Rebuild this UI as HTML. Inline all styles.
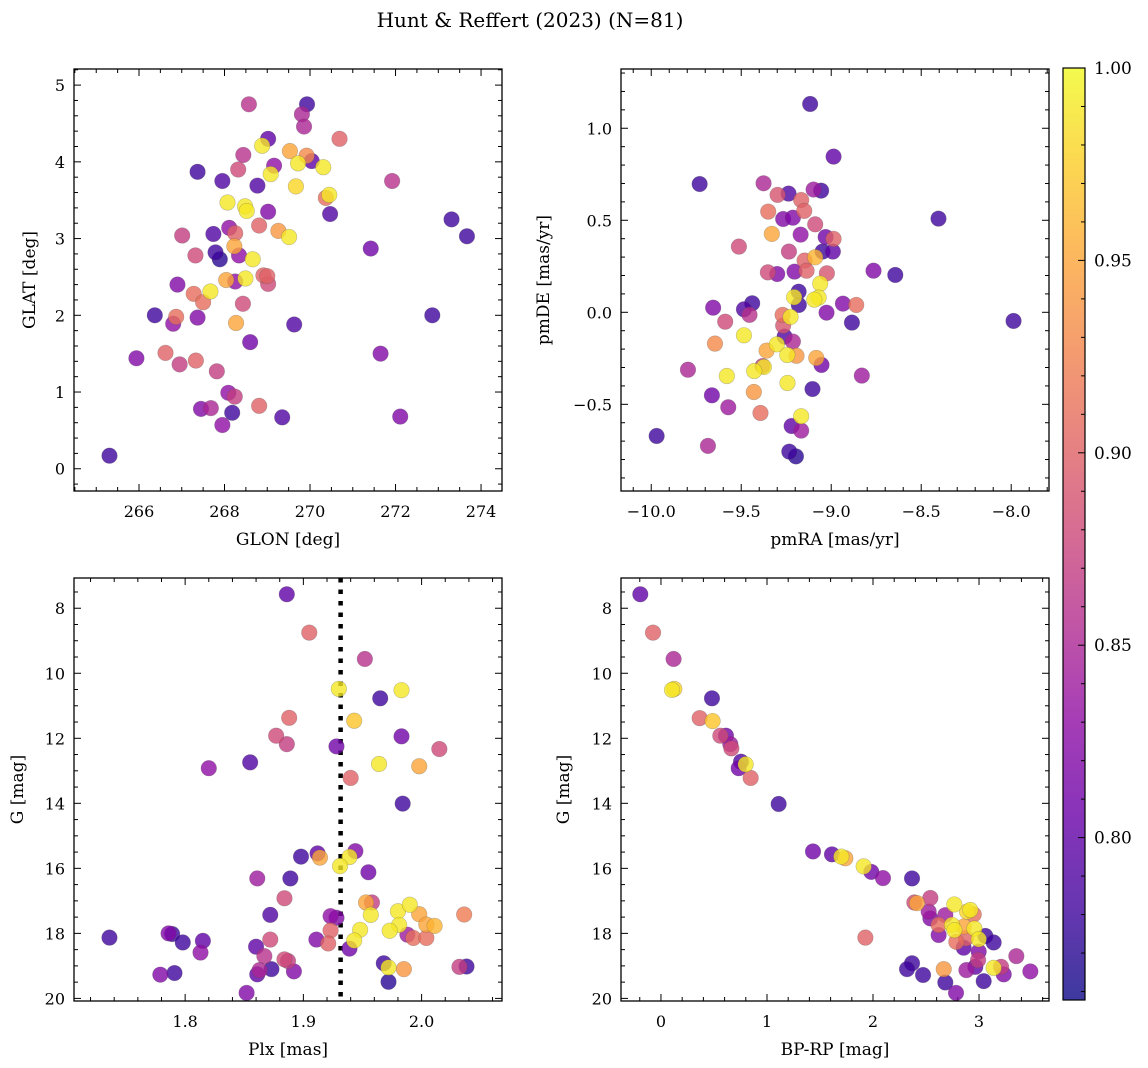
<!DOCTYPE html>
<html><head><meta charset="utf-8">
<style>
body{margin:0;background:#fff;}
svg{display:block;font-family:"DejaVu Serif","Liberation Serif",serif;}
</style></head>
<body>
<svg id="fig" width="1148" height="1068" viewBox="0 0 1148 1068" xmlns="http://www.w3.org/2000/svg">
<defs>
<linearGradient id="plasmaGrad" x1="0" y1="1" x2="0" y2="0"></linearGradient>
</defs>
<text x="530" y="27" font-size="20" text-anchor="middle">Hunt &amp; Reffert (2023) (N=81)</text>
</svg>
<script>
// ---------- Panel A: GLON vs GLAT ----------
const glonA=[268.57,269.93,269.81,269.86,270.69,269.02,268.88,269.53,268.44,269.92,270.04,269.72,270.31,269.16,268.32,267.37,269.08,267.95,268.77,269.67,271.92,270.37,270.45,268.07,268.48,268.52,270.47,269.02,273.31,273.67,268.11,268.81,268.25,269.26,269.51,267.01,267.74,271.42,268.23,267.79,267.89,268.34,268.66,267.32,268.91,269.00,269.02,268.49,268.04,268.25,266.90,267.67,267.28,267.50,268.43,266.37,266.87,266.80,267.37,268.27,269.63,272.86,268.60,265.94,266.62,271.65,266.95,267.33,267.82,268.09,268.24,268.81,267.45,267.68,268.18,269.35,272.11,267.95,265.31];
const glatA=[4.75,4.75,4.62,4.46,4.30,4.30,4.21,4.14,4.09,4.08,4.01,3.98,3.93,3.95,3.90,3.87,3.84,3.75,3.69,3.68,3.75,3.53,3.57,3.47,3.42,3.36,3.32,3.35,3.25,3.03,3.14,3.17,3.07,3.10,3.02,3.04,3.06,2.87,2.90,2.82,2.73,2.78,2.73,2.78,2.52,2.51,2.41,2.48,2.46,2.44,2.40,2.31,2.28,2.17,2.15,2.00,1.98,1.89,1.97,1.90,1.88,2.00,1.65,1.44,1.51,1.50,1.36,1.41,1.27,0.99,0.94,0.82,0.78,0.79,0.73,0.67,0.68,0.57,0.17];
const probA=[.86,.78,.85,.85,.90,.80,.99,.95,.86,.93,.80,.99,.99,.83,.88,.78,.99,.79,.79,.98,.86,.91,.99,.99,.99,.99,.79,.82,.78,.78,.83,.90,.90,.94,.99,.87,.79,.81,.95,.78,.77,.83,.99,.88,.90,.90,.88,.99,.95,.83,.82,.99,.91,.91,.88,.78,.91,.83,.82,.95,.79,.78,.81,.82,.90,.82,.87,.90,.87,.83,.87,.90,.82,.85,.78,.79,.82,.83,.78];
// ---------- Panel B: pmRA vs pmDE ----------
const pmraB=[-9.117,-8.987,-9.731,-9.376,-9.298,-9.237,-9.098,-9.056,-9.167,-9.150,-9.350,-9.267,-9.213,-9.089,-8.404,-9.330,-9.170,-9.031,-8.987,-9.513,-9.235,-9.048,-8.991,-9.089,-9.148,-9.137,-9.352,-9.300,-9.204,-9.024,-8.765,-8.644,-9.061,-9.181,-9.206,-9.070,-9.094,-9.180,-8.935,-8.861,-9.656,-9.485,-9.439,-9.454,-9.026,-7.987,-9.589,-9.270,-9.226,-8.885,-9.267,-9.485,-9.646,-9.259,-9.213,-9.302,-9.359,-9.244,-9.193,-9.083,-9.054,-9.796,-9.381,-9.374,-9.428,-9.580,-8.830,-9.243,-9.104,-9.430,-9.663,-9.572,-9.393,-9.167,-9.220,-9.167,-9.970,-9.685,-9.233,-9.196];
const pmdeB=[1.132,0.846,0.697,0.701,0.638,0.645,0.667,0.661,0.610,0.551,0.547,0.507,0.514,0.478,0.509,0.426,0.422,0.409,0.399,0.357,0.330,0.330,0.330,0.299,0.281,0.226,0.217,0.208,0.221,0.212,0.226,0.203,0.156,0.112,0.082,0.080,0.069,0.040,0.047,0.040,0.025,0.016,0.049,-0.014,-0.002,-0.047,-0.051,-0.014,-0.025,-0.056,-0.072,-0.125,-0.170,-0.132,-0.159,-0.174,-0.208,-0.232,-0.236,-0.248,-0.286,-0.312,-0.292,-0.297,-0.319,-0.346,-0.344,-0.384,-0.417,-0.433,-0.451,-0.516,-0.547,-0.565,-0.618,-0.643,-0.672,-0.726,-0.757,-0.783];
const probB=[.78,.80,.78,.85,.89,.79,.84,.78,.90,.90,.91,.82,.82,.88,.78,.95,.83,.81,.90,.88,.87,.78,.80,.96,.90,.90,.88,.82,.82,.89,.82,.78,.99,.78,.99,.99,.99,.78,.82,.91,.82,.79,.78,.86,.82,.78,.88,.91,.99,.78,.89,.99,.93,.79,.85,.99,.95,.99,.94,.95,.81,.85,.87,.99,.99,.99,.84,.99,.78,.94,.81,.84,.91,.99,.80,.84,.78,.85,.78,.77];
// ---------- Panel C: Plx vs G ----------
const plxC=[1.886,1.905,1.952,1.930,1.983,1.965,1.943,1.888,1.877,1.886,1.983,1.928,2.015,1.855,1.964,1.998,1.820,1.940,1.984,1.898,1.912,1.914,1.944,1.939,1.931,1.955,1.861,1.889,1.884,1.953,1.958,1.957,1.980,1.990,1.998,2.036,1.872,1.923,1.928,1.948,1.981,1.973,2.004,2.011,1.923,1.988,1.993,2.004,1.943,1.911,1.921,1.939,1.736,1.786,1.789,1.798,1.815,1.813,1.860,1.872,1.867,1.884,1.887,1.892,1.873,1.863,1.861,1.779,1.791,1.852,1.968,1.972,1.985,1.972,2.032,2.038];
const gC=[7.57,8.75,9.56,10.48,10.52,10.77,11.46,11.37,11.92,12.18,11.94,12.25,12.33,12.74,12.79,12.86,12.92,13.22,14.01,15.64,15.54,15.67,15.47,15.65,15.93,16.12,16.31,16.31,16.92,17.05,17.05,17.43,17.32,17.12,17.41,17.42,17.43,17.47,17.52,17.89,17.74,17.92,17.73,17.77,17.91,18.04,18.14,18.14,18.22,18.19,18.31,18.47,18.13,18.00,18.02,18.28,18.23,18.59,18.41,18.19,18.70,18.80,18.85,19.17,19.10,19.13,19.26,19.27,19.22,19.83,18.92,19.05,19.10,19.49,19.03,19.02];
const probC=[.80,.90,.86,.99,.99,.78,.97,.90,.88,.87,.81,.81,.88,.79,.99,.95,.83,.90,.78,.78,.80,.95,.82,.99,.99,.81,.84,.78,.88,.95,.87,.99,.99,.99,.95,.92,.79,.83,.82,.99,.99,.99,.95,.96,.90,.84,.91,.91,.99,.82,.90,.81,.78,.82,.78,.78,.80,.83,.80,.88,.86,.88,.87,.82,.78,.85,.80,.82,.78,.82,.78,.99,.94,.77,.87,.78];
const clusterPlx=[1.9315];
// ---------- Panel D: BP-RP vs G ----------
const bprpD=[-0.195,-0.075,0.119,0.104,0.126,0.481,0.365,0.487,0.560,0.613,0.654,0.664,0.755,0.733,0.799,0.846,1.110,1.434,1.613,1.701,1.739,1.912,1.984,2.094,2.368,2.390,2.415,2.541,2.525,2.541,2.682,2.767,2.887,2.918,2.950,2.619,2.619,2.745,2.767,2.855,2.956,3.060,3.138,2.997,2.786,2.877,2.855,2.997,2.991,3.352,1.928,2.368,2.321,2.472,2.667,2.881,2.965,3.138,3.208,3.233,3.484,2.682,3.044,2.783];
const gD=[7.57,8.75,9.56,10.51,10.48,10.77,11.38,11.47,11.92,11.92,12.18,12.31,12.72,12.92,12.80,13.22,14.02,15.48,15.57,15.64,15.69,15.94,16.11,16.30,16.31,17.05,17.07,16.91,17.33,17.54,17.44,17.11,17.33,17.28,17.42,17.74,18.05,17.74,17.90,17.79,17.85,18.08,18.28,18.18,18.26,18.15,18.44,18.56,18.82,18.70,18.13,18.92,19.10,19.28,19.10,19.13,19.03,19.06,19.03,19.26,19.17,19.51,19.47,19.83];
const probD=[.80,.90,.85,.99,.98,.78,.90,.97,.88,.81,.84,.88,.79,.81,.99,.90,.78,.81,.80,.99,.95,.99,.81,.83,.78,.88,.95,.87,.84,.82,.84,.99,.98,.99,.91,.91,.82,.99,.99,.95,.99,.78,.78,.99,.91,.90,.80,.82,.87,.85,.90,.78,.78,.78,.94,.84,.80,.99,.87,.82,.83,.78,.78,.82];
// ---------- Colorbar ticks ----------
const cbarTicks=[0.80,0.85,0.90,0.95,1.00];
const cbarRange=[0.7578,1.0];

const NS="http://www.w3.org/2000/svg";
const svg=document.getElementById('fig');
function mk(tag,attrs,parent){const e=document.createElementNS(NS,tag);for(const k in attrs)e.setAttribute(k,attrs[k]);(parent||svg).appendChild(e);return e;}
const plasma=[[13,8,135],[65,4,157],[106,0,168],[143,13,164],[177,42,144],[204,71,120],[225,100,98],[242,132,75],[252,166,54],[252,206,37],[240,249,33]];
function cmap(v){let t=(v-cbarRange[0])/(cbarRange[1]-cbarRange[0]);t=Math.max(0,Math.min(1,t));const f=t*10,i=Math.min(9,Math.floor(f)),r=f-i;const a=plasma[i],b=plasma[i+1];return 'rgb('+[0,1,2].map(k=>Math.round(a[k]+(b[k]-a[k])*r)).join(',')+')';}
const grad=document.getElementById('plasmaGrad');
plasma.forEach((c,i)=>{mk('stop',{offset:(i*10)+'%','stop-color':'rgb('+c.join(',')+')'},grad);});

function fmt(v,d){let s=v.toFixed(d);return s.replace('-','\u2212');}
function panel(cfg){
  const g=mk('g',{});
  
  
  const {L,R,T,B,xd,yd}=cfg;
  const sx=v=>L+(v-xd[0])/(xd[1]-xd[0])*(R-L);
  const sy=v=>B-(v-yd[0])/(yd[1]-yd[0])*(B-T);
  const tg=mk('g',{stroke:'#000','stroke-width':1},g);
  function ticks(maj,minStep,dom,isX){
    const lo=Math.min(dom[0],dom[1]),hi=Math.max(dom[0],dom[1]);
    for(let v=Math.ceil(lo/minStep-1e-6)*minStep;v<=hi+1e-9;v+=minStep){
      const isMaj=maj.some(m=>Math.abs(m-v)<minStep*0.01);
      const len=isMaj?7:4;
      if(isX){const x=sx(v);mk('line',{x1:x,x2:x,y1:B,y2:B-len},tg);mk('line',{x1:x,x2:x,y1:T,y2:T+len},tg);}
      else{const y=sy(v);mk('line',{x1:L,x2:L+len,y1:y,y2:y},tg);mk('line',{x1:R,x2:R-len,y1:y,y2:y},tg);}
    }
  }
  ticks(cfg.xt,cfg.xm,xd,true);ticks(cfg.yt,cfg.ym,yd,false);
  cfg.xt.forEach(v=>{const t=mk('text',{x:sx(v),y:B+26,'font-size':16,'text-anchor':'middle'},g);t.textContent=fmt(v,cfg.xdp);});
  cfg.yt.forEach(v=>{const t=mk('text',{x:L-9,y:sy(v)+6,'font-size':16,'text-anchor':'end'},g);t.textContent=fmt(v,cfg.ydp);});
  const xl=mk('text',{x:(L+R)/2,y:B+54,'font-size':17,'text-anchor':'middle'},g);xl.textContent=cfg.xlabel;
  
  
  const yl=mk('text',{x:0,y:0,'font-size':17,'text-anchor':'middle',transform:'translate('+cfg.ylx+','+(T+B)/2+') rotate(-90)'},g);yl.textContent=cfg.ylabel;
  
  
  const pg=mk('g',{},g);
  const clip='clip'+cfg.name;
  const cp=mk('clipPath',{id:clip},g);mk('rect',{x:L,y:T,width:R-L,height:B-T},cp);
  pg.setAttribute('clip-path','url(#'+clip+')');
  if(cfg.vline){cfg.vline.forEach(v=>{const l=mk('line',{x1:sx(v),x2:sx(v),y1:T,y2:B,stroke:'#000','stroke-width':4.5,'stroke-dasharray':'4.5,7'},pg);});}
  const idx=cfg.xs.map((_,i)=>i).sort((a,b)=>cfg.ps[a]-cfg.ps[b]);
  idx.forEach(i=>{
    const c=mk('circle',{cx:sx(cfg.xs[i]),cy:sy(cfg.ys[i]),r:7.8,fill:cmap(cfg.ps[i]),'fill-opacity':0.8,stroke:'rgba(80,80,80,0.35)','stroke-width':0.6},pg);
    
    
  });
  const fr=mk('rect',{x:L,y:T,width:R-L,height:B-T,fill:'none',stroke:'#000','stroke-width':1.3},g);
  
  
}
panel({name:'panel-glon-glat',L:74,R:502,T:69,B:491,xd:[264.48,274.49],yd:[-0.29,5.21],xt:[266,268,270,272,274],xm:0.5,yt:[0,1,2,3,4,5],ym:0.2,xdp:0,ydp:0,xlabel:'GLON [deg]',ylabel:'GLAT [deg]',ylx:35,xs:glonA,ys:glatA,ps:probA});
panel({name:'panel-pm',L:621,R:1049,T:69,B:491,xd:[-10.168,-7.79],yd:[-0.971,1.322],xt:[-10,-9.5,-9,-8.5,-8],xm:0.1,yt:[-0.5,0,0.5,1.0],ym:0.1,xdp:1,ydp:1,xlabel:'pmRA [mas/yr]',ylabel:'pmDE [mas/yr]',ylx:549,xs:pmraB,ys:pmdeB,ps:probB});
panel({name:'panel-plx-g',L:74,R:502,T:578,B:1001,xd:[1.706,2.068],yd:[20.08,7.07],xt:[1.8,1.9,2.0],xm:0.02,yt:[8,10,12,14,16,18,20],ym:0.5,xdp:1,ydp:0,xlabel:'Plx [mas]',ylabel:'G [mag]',ylx:23,xs:plxC,ys:gC,ps:probC,vline:clusterPlx});
panel({name:'panel-cmd',L:621,R:1049,T:578,B:1001,xd:[-0.377,3.66],yd:[20.08,7.07],xt:[0,1,2,3],xm:0.2,yt:[8,10,12,14,16,18,20],ym:0.5,xdp:0,ydp:0,xlabel:'BP-RP [mag]',ylabel:'G [mag]',ylx:569,xs:bprpD,ys:gD,ps:probD});

// colorbar
const cb=mk('g',{});


const cT=68,cB=1000,cL=1063,cR=1085;
mk('rect',{x:cL,y:cT,width:cR-cL,height:cB-cT,fill:'url(#plasmaGrad)','fill-opacity':0.8},cb);
mk('rect',{x:cL,y:cT,width:cR-cL,height:cB-cT,fill:'none',stroke:'#000','stroke-width':1.2},cb);
const cy=v=>cB-(v-cbarRange[0])/(cbarRange[1]-cbarRange[0])*(cB-cT);
for(let k=76;k<=100;k++){const v=k/100,y=cy(v);const maj=k%5===0;mk('line',{x1:cR,x2:cR-(maj?7:4),y1:y,y2:y,stroke:'#000','stroke-width':1},cb);}
cbarTicks.forEach(v=>{const t=mk('text',{x:1094,y:cy(v)+6,'font-size':17},cb);t.textContent=v.toFixed(2);});
</script>
</body></html>
